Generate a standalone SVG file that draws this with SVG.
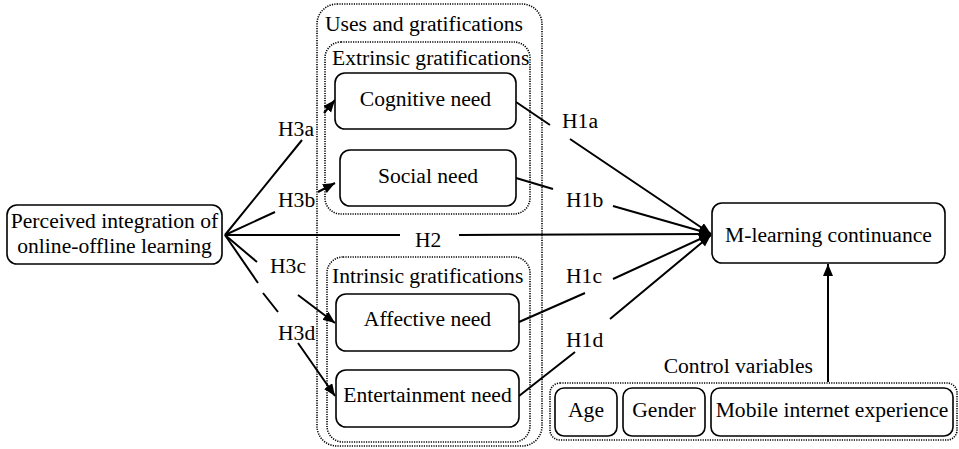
<svg xmlns="http://www.w3.org/2000/svg" width="959" height="449" viewBox="0 0 959 449" font-family="'Liberation Serif', 'DejaVu Serif', serif" font-size="21.6">
<defs>
<marker id="arr" markerUnits="userSpaceOnUse" markerWidth="14" markerHeight="12" refX="12" refY="5" orient="auto">
<path d="M0,0 L12,5 L0,10 z" fill="#000"/>
</marker>
<style>
text{fill:#000}
.c{text-anchor:middle}
.node{fill:#fff;stroke:#000;stroke-width:1.6}
.grp{fill:none;stroke:#000;stroke-width:1.6;stroke-dasharray:1.2 1.2}
.edge{fill:none;stroke:#000;stroke-width:2;marker-end:url(#arr)}
</style>
</defs>
<rect width="959" height="449" fill="#fff"/>

<g id="connectors">
<path class="edge" d="M225,235 L302,140 M324,113 L335,100"/>
<path class="edge" d="M225,235 L275,212 M318,192 L335,183"/>
<path class="edge" d="M225,235 L257,262 M298,295 L335,323"/>
<path class="edge" d="M225,235 L258,283 M263,293 L278,312 M298,343 L335,396"/>
<path class="edge" d="M225,235 L400,235 M459,235 L711,234"/>
<path class="edge" d="M516,102 L550,125 M570,139 L711,234"/>
<path class="edge" d="M516,178 L553,189 M613,206 L711,234"/>
<path class="edge" d="M519,322 L585,293 M613,279 L711,234"/>
<path class="edge" d="M519,396 L575,352 M610,319 L711,235"/>
<path class="edge" d="M828,382 L828,264"/>
<text x="278" y="136">H3a</text>
<text x="278" y="207">H3b</text>
<text x="270" y="273">H3c</text>
<text x="278" y="340">H3d</text>
<text x="415" y="247">H2</text>
<text x="562" y="128">H1a</text>
<text x="566" y="207">H1b</text>
<text x="566" y="283">H1c</text>
<text x="566" y="347">H1d</text>
</g>

<g id="uses-gratifications">
<rect class="grp" x="317" y="4" width="225" height="442" rx="20"/>
<text x="325" y="31">Uses and gratifications</text>
</g>
<g id="extrinsic-gratifications">
<rect class="grp" x="325" y="42" width="205" height="172" rx="16"/>
<text x="332" y="65">Extrinsic gratifications</text>
</g>
<g id="intrinsic-gratifications">
<rect class="grp" x="327" y="257" width="203" height="185" rx="16"/>
<text x="332" y="283">Intrinsic gratifications</text>
</g>

<g id="perceived-integration">
<rect class="node" x="7" y="205" width="215" height="59" rx="10"/>
<text class="c" x="114.5" y="228">Perceived integration of</text>
<text class="c" x="114.5" y="253">online-offline learning</text>
</g>
<g id="cognitive-need">
<rect class="node" x="335" y="73" width="181" height="56" rx="10"/>
<text class="c" x="425.5" y="106">Cognitive need</text>
</g>
<g id="social-need">
<rect class="node" x="340" y="150" width="176" height="56" rx="10"/>
<text class="c" x="428" y="183">Social need</text>
</g>
<g id="affective-need">
<rect class="node" x="336" y="294" width="183" height="57" rx="10"/>
<text class="c" x="427.5" y="326">Affective need</text>
</g>
<g id="entertainment-need">
<rect class="node" x="336" y="370" width="183" height="57" rx="10"/>
<text class="c" x="427.5" y="402">Entertainment need</text>
</g>
<g id="m-learning-continuance">
<rect class="node" x="712" y="203" width="233" height="60" rx="10"/>
<text class="c" x="828.5" y="242">M-learning continuance</text>
</g>
<g id="control-variables">
<rect class="grp" x="550" y="383" width="407" height="57" rx="10"/>
<text x="813" y="373" style="text-anchor:end">Control variables</text>
</g>
<g id="age">
<rect class="node" x="555" y="388" width="62" height="48" rx="9"/>
<text class="c" x="586" y="417">Age</text>
</g>
<g id="gender">
<rect class="node" x="623" y="388" width="82" height="48" rx="9"/>
<text class="c" x="664" y="417">Gender</text>
</g>
<g id="mobile-internet-experience">
<rect class="node" x="711" y="388" width="242" height="48" rx="9"/>
<text class="c" x="832" y="417">Mobile internet experience</text>
</g>
</svg>
